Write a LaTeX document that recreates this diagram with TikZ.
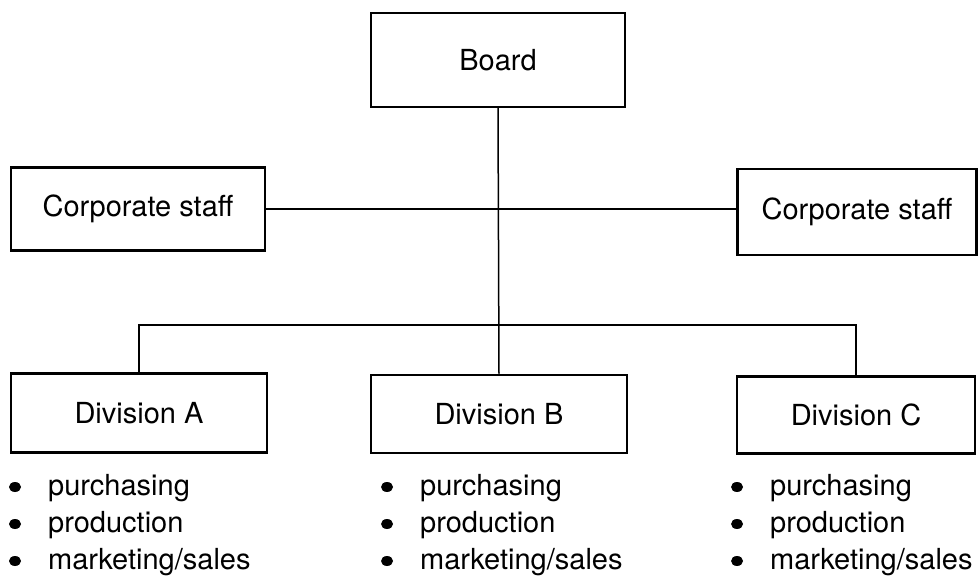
\documentclass[tikz,border=0pt]{standalone}
\usepackage{fontspec}
\setmainfont{TeX Gyre Heros}
\usepackage{tikz}

\begin{document}
\begin{tikzpicture}[x=1pt, y=-1pt,
		box_style/.style={rectangle,draw=black,line width=2.5pt,fill=white,font=\fontsize{29}{34}\selectfont,inner sep=0pt},
		edge_style/.style={draw=black,line width=2pt},
		item_style/.style={inner sep=0pt,font=\fontsize{29}{34}\selectfont}]

		\useasboundingbox (0,0) rectangle (978,577);

		\node[box_style,minimum width=254pt,minimum height=94pt] (board) at (498,60) {Board};
		\node[box_style,minimum width=254pt,minimum height=83pt] (staffL) at (138,209) {Corporate staff};
		\node[box_style,minimum width=239pt,minimum height=86pt] (staffR) at (857,212) {Corporate staff};
		\node[box_style,minimum width=256pt,minimum height=79pt] (divA) at (139,413) {Division A};
		\node[box_style,minimum width=256pt,minimum height=78pt] (divB) at (499,414) {Division B};
		\node[box_style,minimum width=238pt,minimum height=77pt] (divC) at (856,415) {Division C};

		\coordinate (bus) at (499,325);

		\draw[edge_style]  (staffL.east) -- (staffR.west |- staffL.east);
		\draw[edge_style]  (divA.north) |- (bus) -| (divC.north);
		\draw[edge_style,line width=1.5pt]  (board.south) -- (divB.north);

		% task lists under the divisions
		\foreach \d/\bx in {A/15, B/387, C/737} {
			\foreach \t [count=\i] in {purchasing, production, marketing/sales} {
				\node[item_style,anchor=base west] (item\d\i) at (\bx+33,{495+37*(\i-1)}) {\t};
				\fill (\bx,{487+37*(\i-1)}) ellipse (6 and 5);
			}
		}

\end{tikzpicture}
\end{document}
